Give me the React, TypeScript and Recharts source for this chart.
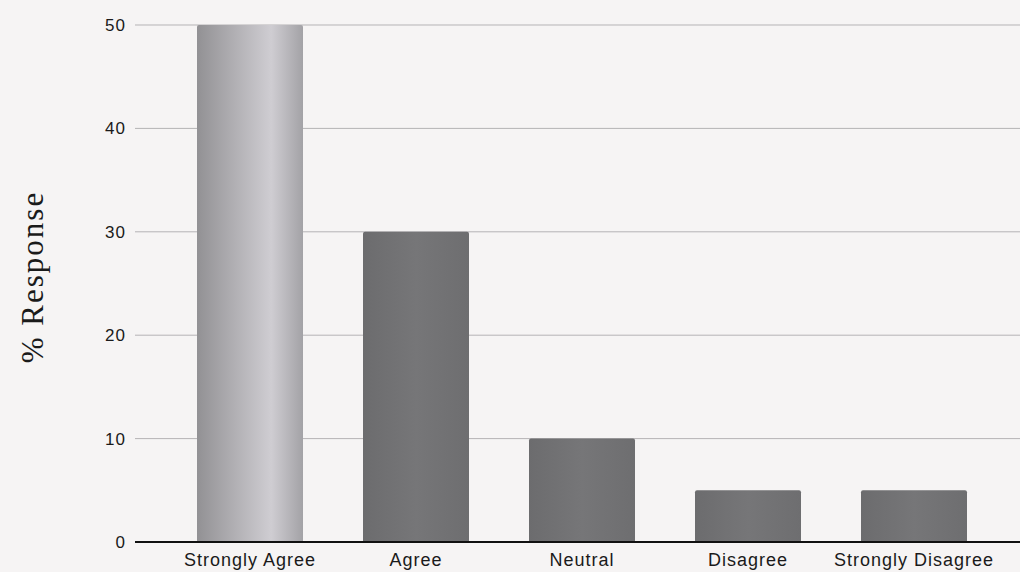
import React from 'react';
import { BarChart, Bar, XAxis, YAxis, CartesianGrid, Cell } from 'recharts';

const categories = ['Strongly Agree', 'Agree', 'Neutral', 'Disagree', 'Strongly Disagree'];
const responses = [50, 30, 10, 5, 5];
const yTicks = [0, 10, 20, 30, 40, 50];

const barFills = ['url(#lightBar)', 'url(#darkBar)', 'url(#darkBar)', 'url(#darkBar)', 'url(#darkBar)'];

const data = categories.map((name, i) => ({ name, value: responses[i] }));

const font = '"Liberation Sans", Arial, sans-serif';
const xTickStyle = { fontFamily: font, fontSize: 18, fill: '#1a1a1a', letterSpacing: 1 };
const yTickStyle = { fontFamily: font, fontSize: 17, fill: '#1a1a1a', letterSpacing: 1 };

export default function App() {
  return (
    <div
      style={{
        position: 'fixed',
        top: 0,
        left: 0,
        width: 1020,
        height: 572,
        overflow: 'hidden',
        background: '#f6f4f4',
      }}
    >
      <div
        style={{
          position: 'absolute',
          left: 33,
          top: 277,
          transform: 'translate(-50%, -50%) rotate(-90deg)',
          fontFamily: '"Liberation Serif", "Times New Roman", serif',
          fontSize: 31,
          letterSpacing: 2,
          color: '#1a1a1a',
          whiteSpace: 'nowrap',
        }}
      >
        % Response
      </div>
      <BarChart
        width={1020}
        height={572}
        data={data}
        margin={{ top: 25, right: 0, bottom: 0, left: 0 }}
        barSize={106}
      >
        <defs>
          <linearGradient id="lightBar" x1="0" y1="0" x2="1" y2="0">
            <stop offset="0%" stopColor="#929194" />
            <stop offset="70%" stopColor="#cfcdd2" />
            <stop offset="100%" stopColor="#a3a2a6" />
          </linearGradient>
          <linearGradient id="darkBar" x1="0" y1="0" x2="1" y2="0">
            <stop offset="0%" stopColor="#6c6c6e" />
            <stop offset="50%" stopColor="#767678" />
            <stop offset="100%" stopColor="#6e6e70" />
          </linearGradient>
        </defs>
        <CartesianGrid vertical={false} stroke="#b5b3b5" strokeWidth={1} />
        <XAxis
          dataKey="name"
          height={30}
          padding={{ left: 32, right: 23 }}
          axisLine={{ stroke: '#111', strokeWidth: 2 }}
          tickLine={false}
          tick={xTickStyle}
          tickMargin={5}
          interval={0}
        />
        <YAxis
          width={135}
          domain={[0, 50]}
          ticks={yTicks}
          axisLine={false}
          tickLine={false}
          tickSize={0}
          tickMargin={9}
          tick={yTickStyle}
        />
        <Bar dataKey="value" isAnimationActive={false} radius={[2, 2, 0, 0]}>
          {data.map((d, i) => (
            <Cell key={d.name} fill={barFills[i]} />
          ))}
        </Bar>
      </BarChart>
    </div>
  );
}
